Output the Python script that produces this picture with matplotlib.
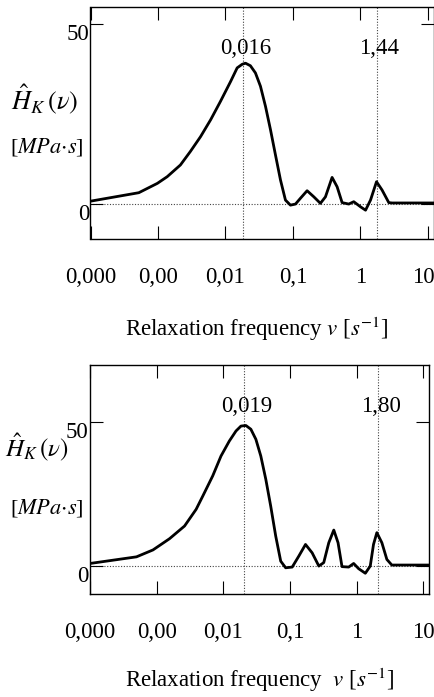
import numpy as np
import matplotlib
matplotlib.use('Agg')
import matplotlib.pyplot as plt
import matplotlib.transforms as mtransforms

plt.rcParams.update({
    'font.family':      'Liberation Serif',
    'mathtext.fontset': 'stix',
    'font.size':        16,
})

# ── data ─────────────────────────────────────────────────────────────────────
# upper panel: relaxation spectrum H_K(v) [MPa s]
nu_a = [1.0e-4, 5.2e-4, 9.8e-4, 1.37e-3, 2.15e-3, 3.02e-3, 4.27e-3, 6.03e-3,
        8.43e-3, 1.19e-2, 1.49e-2, 1.77e-2, 1.98e-2, 2.34e-2, 2.78e-2, 3.30e-2,
        3.92e-2, 4.65e-2, 5.51e-2, 6.53e-2, 7.74e-2, 9.18e-2, 0.109, 0.129,
        0.162, 0.204, 0.255, 0.303, 0.380, 0.451, 0.535, 0.671, 0.796, 1.0,
        1.19, 1.41, 1.73, 2.09, 2.63, 2.95, 12.9]
h_a = [0.8, 3.15, 5.75, 7.6, 10.85, 14.6, 18.7, 23.4,
       28.5, 34.0, 37.8, 38.8, 39.1, 38.4, 36.4, 32.7,
       27.1, 20.6, 13.6, 6.7, 1.1, -0.3, 0.0, 1.6,
       3.7, 2.0, 0.2, 2.0, 7.4, 4.8, 0.4, 0.0, 0.65, -0.75,
       -1.7, 1.1, 6.2, 3.9, 0.4, 0.3, 0.3]

# lower panel
nu_b = [1.0e-4, 4.98e-4, 8.81e-4, 1.56e-3, 2.62e-3, 3.91e-3, 4.92e-3, 6.93e-3,
        9.23e-3, 1.23e-2, 1.55e-2, 1.84e-2, 2.18e-2, 2.59e-2, 3.08e-2, 3.65e-2,
        4.34e-2, 5.14e-2, 6.11e-2, 7.26e-2, 8.61e-2, 0.108, 0.136, 0.171,
        0.215, 0.271, 0.321, 0.382, 0.454, 0.526, 0.603, 0.760, 0.902, 1.07,
        1.35, 1.60, 1.79, 2.01, 2.39, 2.84, 3.37, 11.9]
h_b = [0.9, 3.2, 5.6, 9.5, 13.9, 19.7, 24.3, 31.3,
       38.2, 43.4, 46.9, 48.6, 48.8, 47.5, 44.0, 38.2,
       30.1, 20.8, 10.4, 1.7, -0.6, -0.35, 3.5, 7.5,
       4.6, 0.0, 1.2, 8.1, 12.5, 8.1, -0.2, -0.35, 0.9, -0.9,
       -2.5, 0.0, 7.5, 11.6, 8.1, 2.3, 0.35, 0.35]

# marked peak positions and their labels
peaks_a = [0.018, 1.73]
peak_labels_a = ['0,016', '1,44']
peaks_b = [0.0205, 2.07]
peak_labels_b = ['0,019', '1,80']

xticks = [1e-4, 1e-3, 1e-2, 1e-1, 1, 10]
xticklabels = ['0,000', '0,00', '0,01', '0,1', '1', '10']
yticks = [0, 50]

W, H = 435, 697
fig = plt.figure(figsize=(W / 100, H / 100), dpi=100)


def px_axes(left, right, top, bottom):
    return fig.add_axes([left / W, 1 - bottom / H, (right - left) / W, (bottom - top) / H])


def panel(ax, nu, h, peaks, labels, ylim, last_shift=0):
    ax.plot(nu, h, color='black', linewidth=2.0, zorder=3, solid_joinstyle='round')
    ax.axhline(0, color='#444444', linewidth=0.8, linestyle=(0, (1, 1.5)), zorder=1)
    for p in peaks:
        ax.axvline(p, color='#444444', linewidth=0.8, linestyle=(0, (1, 1.5)), zorder=1)
    trans = mtransforms.blended_transform_factory(ax.transData, ax.transAxes)
    trans = trans + mtransforms.ScaledTranslation(3 / 100, 0, fig.dpi_scale_trans)
    for p, lab in zip(peaks, labels):
        ax.text(p, 0.82, lab, transform=trans, ha='center', va='center', fontsize=16.5)
    ax.set_xscale('log')
    ax.set_xlim(1e-4, 12.3)
    ax.set_ylim(*ylim)
    ax.set_xticks(xticks)
    ax.set_xticklabels(xticklabels)
    ax.minorticks_off()
    ax.set_yticks(yticks)
    ax.tick_params(axis='both', direction='in', length=9.5, width=0.8,
                   top=True, right=True, labelsize=16.5)
    ax.tick_params(axis='x', pad=20)
    ax.tick_params(axis='y', pad=1)
    for lab in ax.get_yticklabels():
        lab.set_va('top')
    if last_shift:
        lab = ax.xaxis.get_major_ticks()[-1].label1
        lab.set_transform(lab.get_transform()
                          + mtransforms.ScaledTranslation(last_shift / 100, 0, fig.dpi_scale_trans))
    for s in ax.spines.values():
        s.set_linewidth(1.0)


ax1 = px_axes(90.5, 434, 7, 239)
panel(ax1, nu_a, h_a, peaks_a, peak_labels_a, (-9.7, 54.7), last_shift=-5)

ax2 = px_axes(90, 429.3, 365, 594)
panel(ax2, nu_b, h_b, peaks_b, peak_labels_b, (-9.7, 69.8))

# axis titles
ylab = r'$\hat{H}_K\,(\nu)$'
unit = r'[$MPa{\cdot}s$]'
fig.text(45 / W, 1 - 100 / H, ylab, ha='center', va='center', fontsize=19)
fig.text(47 / W, 1 - 147 / H, unit, ha='center', va='center', fontsize=16)
fig.text(37 / W, 1 - 447 / H, ylab, ha='center', va='center', fontsize=18)
fig.text(47 / W, 1 - 508 / H, unit, ha='center', va='center', fontsize=16)

fig.text(257 / W, 1 - 329 / H, r'Relaxation frequency $v$ [$s^{\mathrm{-1}}$]',
         ha='center', va='center', fontsize=16.5)
fig.text(260 / W, 1 - 680 / H, r'Relaxation frequency  $v$ [$s^{\mathrm{-1}}$]',
         ha='center', va='center', fontsize=16.5)

fig.savefig('out.png', dpi=100, facecolor='white')
